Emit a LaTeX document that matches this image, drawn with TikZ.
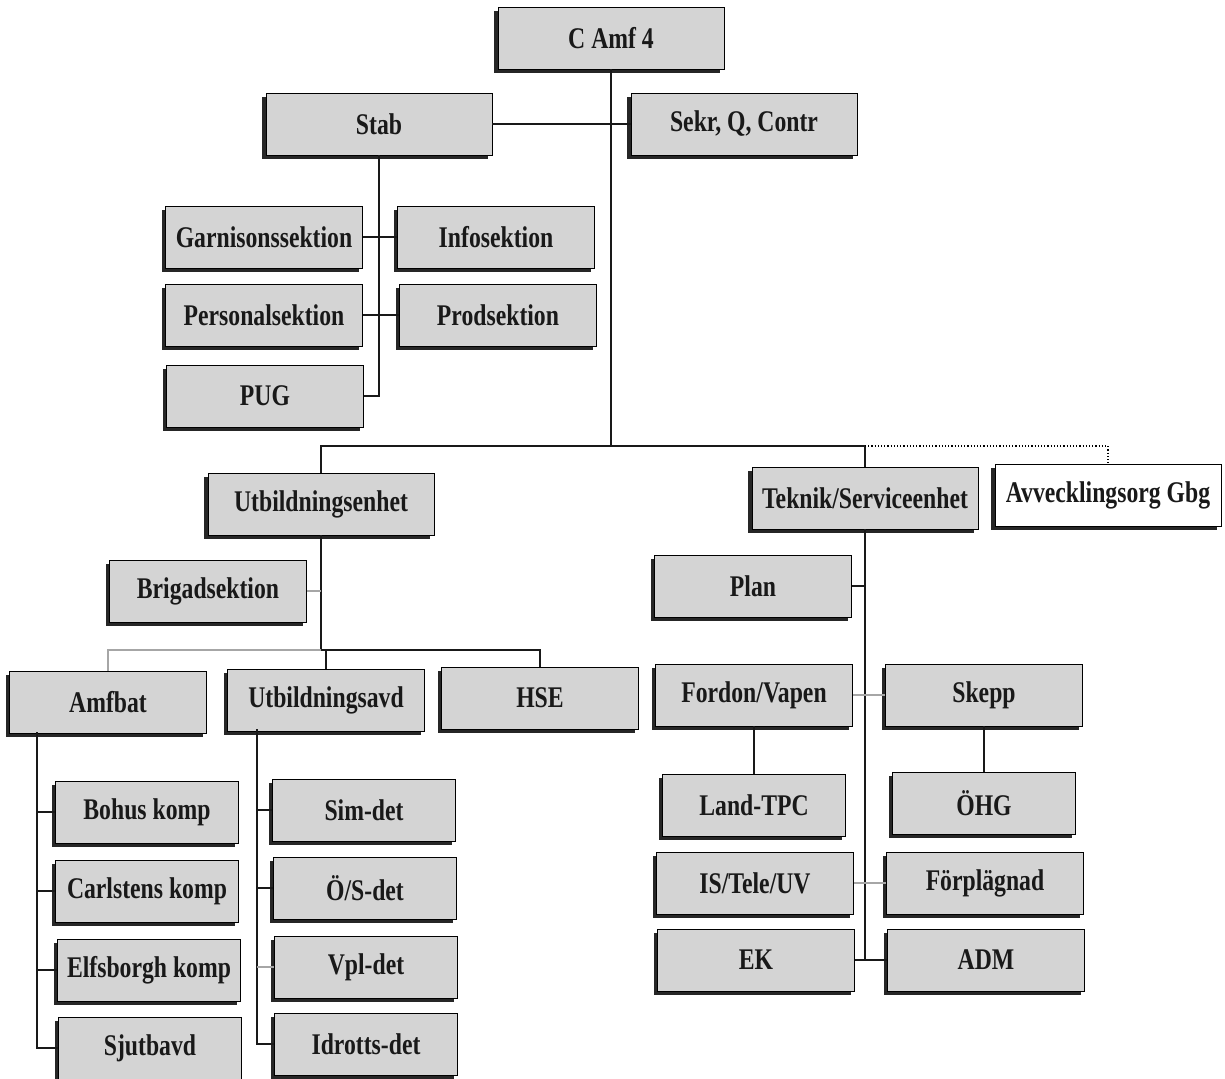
\documentclass[tikz,border=0pt]{standalone}
\usepackage{fontspec}
\newfontfamily\boxfont{Liberation Serif}[FakeStretch=0.79]
\usepackage{tikz}
\usetikzlibrary{shadows}
\tikzstyle{org}=[draw=black, fill=black!17, line width=.8pt, minimum height=62pt,
                 inner sep=2pt, text=black!90,
                 font=\boxfont\bfseries\fontsize{30pt}{32pt}\selectfont,
                 drop shadow={shadow xshift=-4pt, shadow yshift=-4pt,
                 fill=black!85, opacity=1}]
\tikzstyle{wide}=[org, minimum width=226pt]
\tikzstyle{sect}=[org, minimum width=197pt]
\tikzstyle{unit}=[org, minimum width=183pt]
\tikzstyle{link}=[line width=1.3pt, black!90]
\tikzstyle{faint}=[line width=1.3pt, black!35]

\begin{document}
\begin{tikzpicture}[x=1pt, y=-1pt]
    \useasboundingbox (0,0) rectangle (1225,1078);
    % top
    \node[wide] (CA) at (611,38) {C Amf 4};
    \node[wide] (Sekr) at (744,124) {Sekr, Q, Contr};
    \node[wide] (Stab) at (379,124) {Stab};
    \node[sect] (S1) at (264,237) {Garnisonssektion};
    \node[sect] (S2) at (496,237) {Infosektion};
    \node[sect] (S3) at (264,315) {Personalsektion};
    \node[sect] (S4) at (498,315) {Prodsektion};
    \node[sect] (S5) at (265,396) {PUG};
    % units
    \node[wide] (U) at (321,504) {Utbildningsenhet};
    \node[wide] (T) at (865,498) {Teknik/Serviceenhet};
    \node[wide, fill=white] (Avv) at (1108,495) {Avvecklingsorg Gbg};
    \coordinate (hub) at (611,446);
    % Utbildningsenhet
    \node[sect] (Brig) at (208,591) {Brigadsektion};
    \node[sect] (A) at (108,702) {Amfbat};
    \node[sect] (B) at (326,700) {Utbildningsavd};
    \node[sect] (C) at (540,698) {HSE};
    \coordinate (ubar) at (321,650);
    \node[unit] (a1) at (147,812) {Bohus komp};
    \node[unit] (a2) at (147,891) {Carlstens komp};
    \node[unit] (a3) at (149,970) {Elfsborgh komp};
    \node[unit] (a4) at (150,1048) {Sjutbavd};
    \coordinate (aline) at (37,732);
    \node[unit] (b1) at (364,810) {Sim-det};
    \node[unit] (b2) at (365,888) {Ö/S-det};
    \node[unit] (b3) at (366,967) {Vpl-det};
    \node[unit] (b4) at (366,1044) {Idrotts-det};
    \coordinate (bline) at (257,729);
    % Teknik/Serviceenhet
    \node[sect] (P) at (753,586) {Plan};
    \node[sect] (t1) at (754,695) {Fordon/Vapen};
    \node[sect] (t2) at (984,695) {Skepp};
    \node[unit] (t3) at (754,805) {Land-TPC};
    \node[unit] (t4) at (984,803) {ÖHG};
    \node[sect] (t5) at (755,883) {IS/Tele/UV};
    \node[sect] (t6) at (985,883) {Förplägnad};
    \node[sect] (t7) at (756,960) {EK};
    \node[sect] (t8) at (986,960) {ADM};
    % connectors
    \draw[link] (CA) -- (hub);
    \draw[link] (Stab) -- (Sekr);
    \draw[link] (Stab.south) |- (S5.east);
    \foreach \to/\from in {S1/S2, S3/S4, t1/t3, t2/t4, t7/t8}
      \draw[link] (\to) -- (\from);
    \draw[link] (U.north) |- (hub) -| (T.north);
    \draw[dotted, line width=1.2pt] (T.north |- hub) -| (Avv.north);
    \draw[link] (U) -- (ubar);
    \draw[faint] (Brig.east) -- (Brig.east -| U.south);
    \draw[faint] (A.north) |- (ubar);
    \draw[link] (ubar) -| (C.north);
    \draw[link] (B.north) -- (B.north |- ubar);
    \draw[link] (aline) |- (a4.west);
    \foreach \n in {a1, a2, a3}
      \draw[link] (\n.west) -- (\n.west -| aline);
    \draw[link] (bline) |- (b4.west);
    \foreach \n in {b1, b2}
      \draw[link] (\n.west) -- (\n.west -| bline);
    \draw[faint] (b3.west) -- (b3.west -| bline);
    \draw[link] (T.south) -- (T.south |- t8.west);
    \draw[link] (P.east) -- (P.east -| T.south);
    \draw[faint] (t1) -- (t2);
    \draw[faint] (t5) -- (t6);
\end{tikzpicture}
\end{document}
